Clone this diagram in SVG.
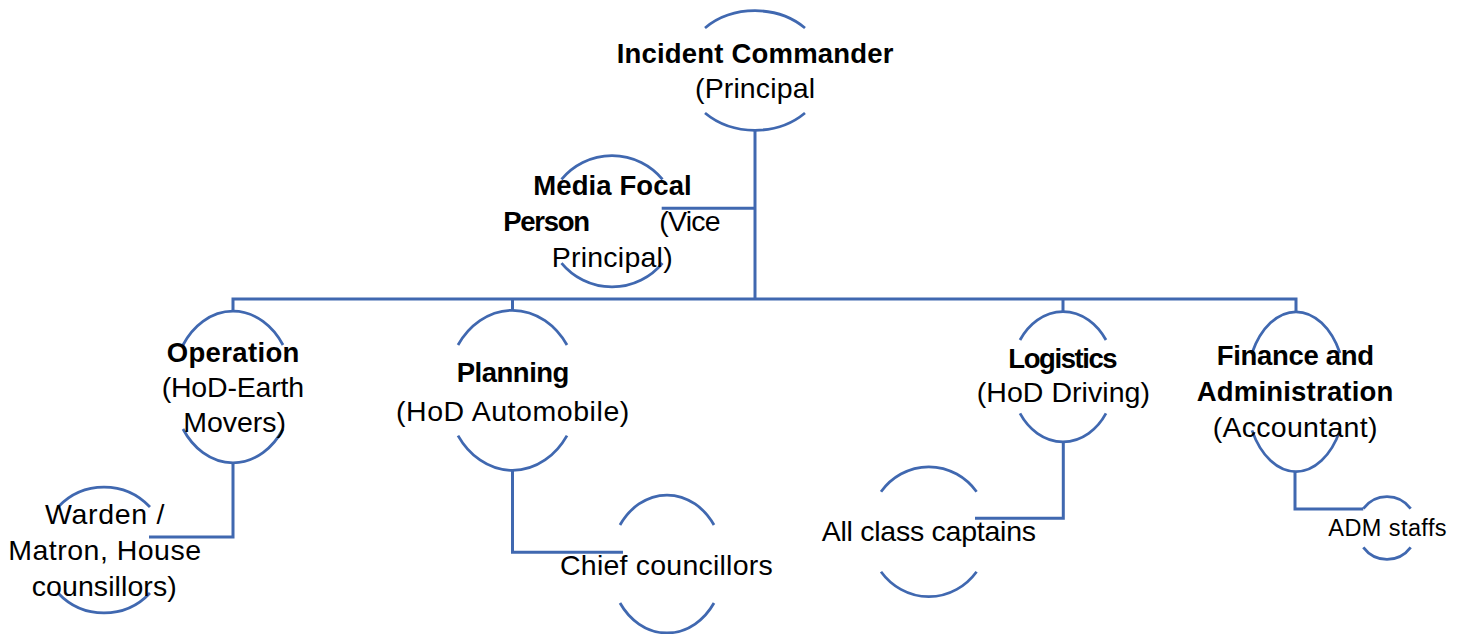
<svg xmlns="http://www.w3.org/2000/svg" width="1463" height="634" viewBox="0 0 1463 634">
<style>
.bg{fill:#ffffff}
.ln{fill:none;stroke:#4068B0;stroke-width:3}
.arc{fill:none;stroke:#4068B0;stroke-width:2.75;stroke-linecap:butt}
text{font-family:"Liberation Sans",Arial,sans-serif;fill:#000000;font-size:28.5px}
.b{font-weight:bold;font-size:27.5px}
.s{font-size:23.5px}
</style>
<rect class="bg" x="0" y="0" width="1463" height="634"/>
<g id="connectors">
<path class="ln" d="M755 130 V299"/>
<path class="ln" d="M233 311.7 V299 H1296 V311.7"/>
<path class="ln" d="M512.5 299 V310.7"/>
<path class="ln" d="M1063 299 V311.7"/>
<path class="ln" d="M755 208.3 H661.7"/>
<path class="ln" d="M233 462.5 V537 H149"/>
<path class="ln" d="M512.5 470 V552.3 H623"/>
<path class="ln" d="M1063.3 441.7 V518.3 H975"/>
<path class="ln" d="M1295 471.7 V509 H1363.3"/>
</g>
<g id="incident-commander">
<path class="arc" d="M705 28 A71 59.5 0 0 1 805 28"/>
<path class="arc" d="M705 113 A71 59.5 0 0 0 805 113"/>
<text class="b" x="616.7" y="63" textLength="276.7">Incident Commander</text>
<text x="695" y="97.5" textLength="120">(Principal</text>
</g>
<g id="media-focal-person">
<path class="arc" d="M561.5 179.3 A65.5 65.5 0 0 1 662.5 179.3"/>
<path class="arc" d="M561.5 263.1 A65.5 65.5 0 0 0 662.5 263.1"/>
<text class="b" x="533.3" y="195" textLength="158.4">Media Focal</text>
<text class="b" x="503.3" y="230.7" textLength="86.7">Person</text>
<text x="659.3" y="230.7" textLength="61.4">(Vice</text>
<text x="551.7" y="266.7" textLength="121">Principal)</text>
</g>
<g id="operation">
<path class="arc" d="M183 345 A60 75.5 0 0 1 283 345"/>
<path class="arc" d="M183 429 A60 75.5 0 0 0 283 429"/>
<text class="b" x="166.7" y="361.7" textLength="132.7">Operation</text>
<text x="161.7" y="397.3" textLength="142.3">(HoD-Earth</text>
<text x="183.3" y="431.7" textLength="102.7">Movers)</text>
</g>
<g id="planning">
<path class="arc" d="M458 345 A66 79.7 0 0 1 567 345"/>
<path class="arc" d="M458 435.6 A66 79.7 0 0 0 567 435.6"/>
<text class="b" x="456.7" y="381.7" textLength="112.7">Planning</text>
<text x="396" y="420.7" textLength="233.3">(HoD Automobile)</text>
</g>
<g id="logistics">
<path class="arc" d="M1020 340 A52 65 0 0 1 1106 340"/>
<path class="arc" d="M1020 413.4 A52 65 0 0 0 1106 413.4"/>
<text class="b" x="1008.3" y="368.3" textLength="109.3">Logistics</text>
<text x="976.7" y="401.7" textLength="173.3">(HoD Driving)</text>
</g>
<g id="finance-administration">
<path class="arc" d="M1252 353 A50.3 80 0 0 1 1340 353"/>
<path class="arc" d="M1252 430.4 A50.3 80 0 0 0 1340 430.4"/>
<text class="b" x="1216.7" y="365" textLength="157.3">Finance and</text>
<text class="b" x="1196.7" y="401" textLength="196.7">Administration</text>
<text x="1212.7" y="436.7" textLength="164.7">(Accountant)</text>
</g>
<g id="warden">
<path class="arc" d="M58 507 A63 63 0 0 1 150 507"/>
<path class="arc" d="M58 593 A63 63 0 0 0 150 593"/>
<text x="45" y="524" textLength="119.3">Warden /</text>
<text x="8.3" y="560" textLength="192.7">Matron, House</text>
<text x="31.7" y="595.7" textLength="145">counsillors)</text>
</g>
<g id="chief-councillors">
<path class="arc" d="M620 525 A57 69 0 0 1 714 525"/>
<path class="arc" d="M620 603 A57 69 0 0 0 714 603"/>
<text x="560" y="575" textLength="212.7">Chief councillors</text>
</g>
<g id="all-class-captains">
<path class="arc" d="M881 491.7 A60.7 65 0 0 1 976.6 491.7"/>
<path class="arc" d="M881 571.7 A60.7 65 0 0 0 976.6 571.7"/>
<text x="821.7" y="540.7" textLength="214.3">All class captains</text>
</g>
<g id="adm-staffs">
<path class="arc" d="M1363.3 508.7 A30.1 31.3 0 0 1 1410.7 508.7"/>
<path class="arc" d="M1363.3 547.3 A30.1 31.3 0 0 0 1410.7 547.3"/>
<text class="s" x="1328.3" y="536" textLength="118.3">ADM staffs</text>
</g>
</svg>
